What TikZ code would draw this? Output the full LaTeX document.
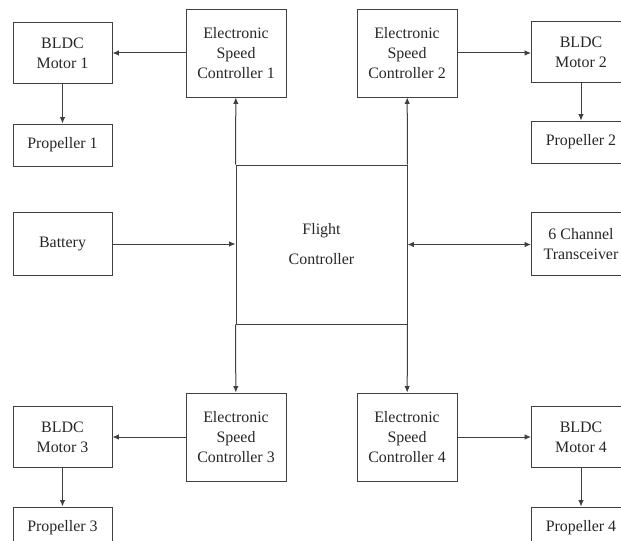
\documentclass[tikz,border=0pt]{standalone}
\usepackage{fontspec}
\setmainfont{Liberation Serif}
\usetikzlibrary{arrows.meta}
\tikzset{
  blk/.style={draw=black!75, line width=0.9bp, align=center, inner sep=0pt, text=black!85, font=\fontsize{16}{20}\selectfont, minimum width=99bp},
  esc/.style={blk, minimum width=100bp, minimum height=88bp},
  motor/.style={blk, minimum height=61bp},
  prop/.style={blk, minimum height=42bp},
  io/.style={blk, minimum height=63bp},
}
\begin{document}
\begin{tikzpicture}[x=1bp,y=-1bp,>={Latex[length=6.5bp,width=5.5bp]},every edge/.style={draw=black!75, line width=1bp}]
				\clip (0,0) rectangle (621,541);
				\node[esc] (E1) at (236,53) {Electronic\\Speed\\Controller 1};
				\node[esc] (E2) at (407,53) {Electronic\\Speed\\Controller 2};
				\node[esc] (E3) at (236,437) {Electronic\\Speed\\Controller 3};
				\node[esc] (E4) at (407,437) {Electronic\\Speed\\Controller 4};
				\node[motor] (M1) at (62.5,53) {BLDC\\Motor 1};
				\node[motor] (M2) at (581,52) {BLDC\\Motor 2};
				\node[motor] (M3) at (62.5,437) {BLDC\\Motor 3};
				\node[motor] (M4) at (581,437) {BLDC\\Motor 4};
				\node[prop] (P1) at (62.5,145) {Propeller 1};
				\node[prop] (P2) at (581,142) {Propeller 2};
				\node[prop] (P3) at (62.5,528) {Propeller 3};
				\node[prop] (P4) at (581,528) {Propeller 4};
				\node[io] (B) at (62.5,244) {Battery};
				\node[io] (T) at (581,244) {6 Channel\\Transceiver};
				\node[blk, minimum width=171bp, minimum height=159bp] (FC) at (321.5,244.5) {Flight\\[10bp]Controller};

				\path [->] (E1) edge (M1);
				\path [->] (E2.east) edge (E2.east -| M2.west);
				\path [->] (E3) edge (M3);
				\path [->] (E4) edge (M4);
				\path [->] (M1) edge (P1);
				\path [->] (M2) edge (P2);
				\path [->] (M3) edge (P3);
				\path [->] (M4) edge (P4);
				\path [->] (B.east) edge (B.east -| FC.west);
				\path [<->] (FC.east) edge (FC.east -| T.west);
				\path [->] (FC.north west) edge (E1);
				\path [->] (FC.north east) edge (E2);
				\path [->] (FC.south west) edge (E3);
				\path [->] (FC.south east) edge (E4);
\end{tikzpicture}
\end{document}
